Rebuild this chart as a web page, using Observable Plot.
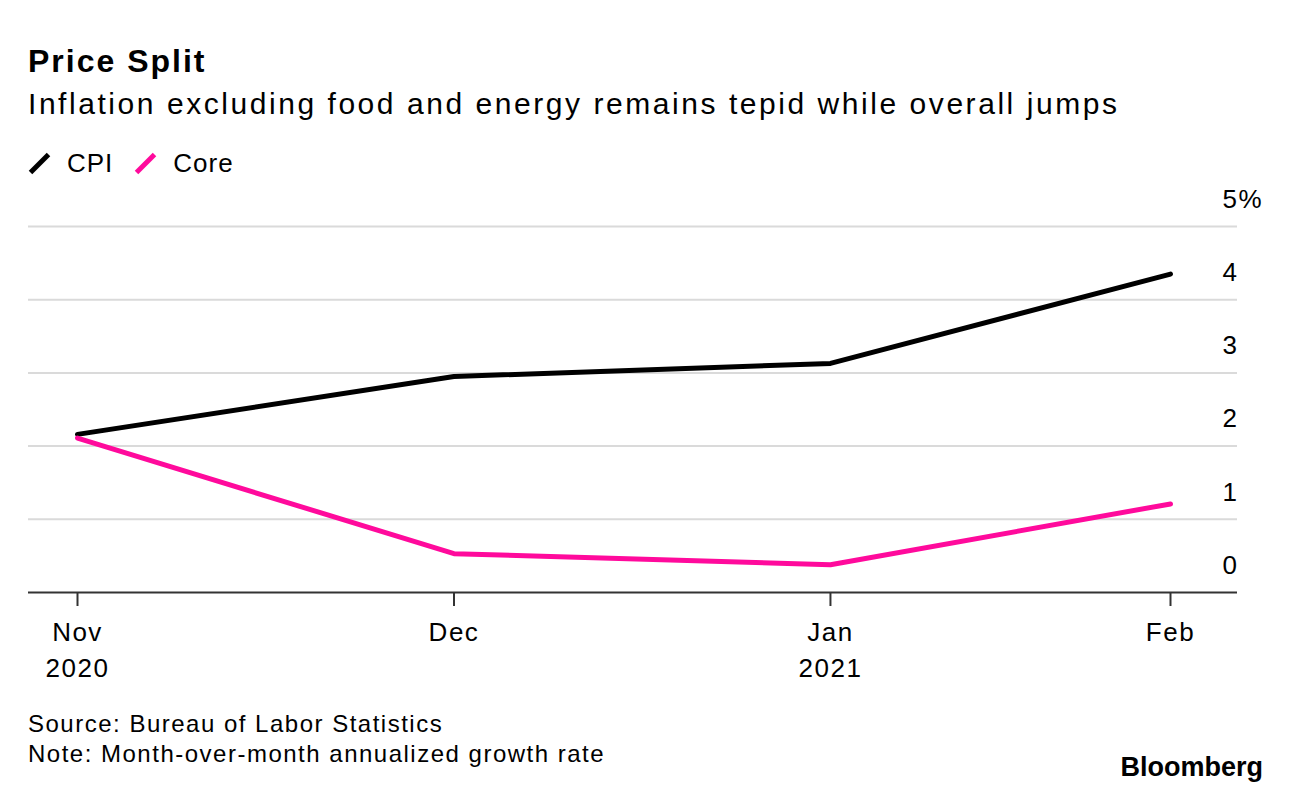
<!DOCTYPE html>
<html>
<head>
<meta charset="utf-8">
<script src="https://cdn.jsdelivr.net/npm/d3@7"></script>
<script src="https://cdn.jsdelivr.net/npm/@observablehq/plot@0.6"></script>
<style>
  html, body { margin: 0; padding: 0; background: #fff; }
  body { width: 1292px; height: 794px; position: relative; font-family: "Liberation Sans", Arial, sans-serif; color: #000; overflow: hidden; }
  #title { position: absolute; left: 28px; top: 41px; font-size: 32px; font-weight: bold; line-height: 40px; letter-spacing: 2px; }
  #subtitle { position: absolute; left: 28px; top: 86px; font-size: 30px; line-height: 36px; letter-spacing: 2.55px; }
  #legend { position: absolute; left: 28px; top: 148px; font-size: 26px; line-height: 30px; display: flex; align-items: center; letter-spacing: 1px; }
  #legend .item { display: flex; align-items: center; margin-right: 21px; }
  #legend svg { margin-right: 16px; }
  #chart { position: absolute; left: 0; top: 180px; }
  #source { position: absolute; left: 28px; top: 709px; font-size: 24px; line-height: 30px; letter-spacing: 1.5px; }
  #brand { position: absolute; right: 29px; top: 752px; font-size: 27px; font-weight: bold; letter-spacing: 0px; }
</style>
</head>
<body>
<div id="title"></div>
<div id="subtitle"></div>
<div id="legend"></div>
<div id="chart"></div>
<div id="source"></div>
<div id="brand">Bloomberg</div>
<script>
const titleText = "Price Split";
const subtitleText = "Inflation excluding food and energy remains tepid while overall jumps";
const sourceLines = ["Source: Bureau of Labor Statistics", "Note: Month-over-month annualized growth rate"];

const months = ["2020-11-30", "2020-12-31", "2021-01-31", "2021-02-28"];
const monthLabels = ["Nov\n2020", "Dec", "Jan\n2021", "Feb"];
const cpiValues = [2.16, 2.95, 3.13, 4.35];
const coreValues = [2.11, 0.53, 0.38, 1.21];
const seriesNames = ["CPI", "Core"];
const seriesColors = ["#000000", "#ff0a9c"];
const yTicks = [0, 1, 2, 3, 4, 5];

document.getElementById("title").textContent = titleText;
document.getElementById("subtitle").textContent = subtitleText;
document.getElementById("source").innerHTML = sourceLines.map(s => `<div>${s}</div>`).join("");

const legend = document.getElementById("legend");
seriesNames.forEach((name, i) => {
  const item = document.createElement("div");
  item.className = "item";
  item.innerHTML = `<svg width="23" height="23" viewBox="0 0 23 23"><line x1="2.5" y1="20.5" x2="20.5" y2="2.5" stroke="${seriesColors[i]}" stroke-width="5" stroke-linecap="butt"/></svg><span>${name}</span>`;
  legend.appendChild(item);
});

const parse = d3.utcParse("%Y-%m-%d");
const dates = months.map(parse);
const data = [];
seriesNames.forEach((name, si) => {
  const vals = si === 0 ? cpiValues : coreValues;
  dates.forEach((d, i) => data.push({date: d, value: vals[i], series: name}));
});
const labelMap = new Map(dates.map((d, i) => [+d, monthLabels[i]]));

const chart = Plot.plot({
  width: 1292,
  height: 512,
  marginTop: 46,
  marginBottom: 100,
  marginLeft: 28,
  marginRight: 55,
  style: {fontFamily: "Liberation Sans, Arial, sans-serif", fontSize: "26px", color: "#000", background: "#fff", letterSpacing: "1.5px"},
  x: {type: "utc", insetLeft: 49, insetRight: 67},
  y: {domain: [0, 5]},
  color: {domain: seriesNames, range: seriesColors},
  marks: [
    Plot.ruleY(yTicks.filter(t => t > 0), {stroke: "#dadada", strokeWidth: 2}),
    Plot.axisY(yTicks, {
      anchor: "right", tickSize: 0, tickPadding: 0, textAnchor: "start",
      dx: -15, dy: -27, fontSize: 26, fill: "#000",
      tickFormat: d => d === 5 ? "5%" : String(d), label: null
    }),
    Plot.line(data, {x: "date", y: "value", z: "series", stroke: "series", strokeWidth: 5, strokeLinejoin: "round", strokeLinecap: "round"}),
    Plot.ruleY([0], {stroke: "#333", strokeWidth: 2}),
    Plot.axisX(dates, {
      tickSize: 14, tickPadding: 10, stroke: "#333", strokeWidth: 2,
      tickFormat: d => labelMap.get(+d), fontSize: 26, fill: "#000",
      lineHeight: 1.35, label: null
    })
  ]
});
document.getElementById("chart").appendChild(chart);
</script>
</body>
</html>
